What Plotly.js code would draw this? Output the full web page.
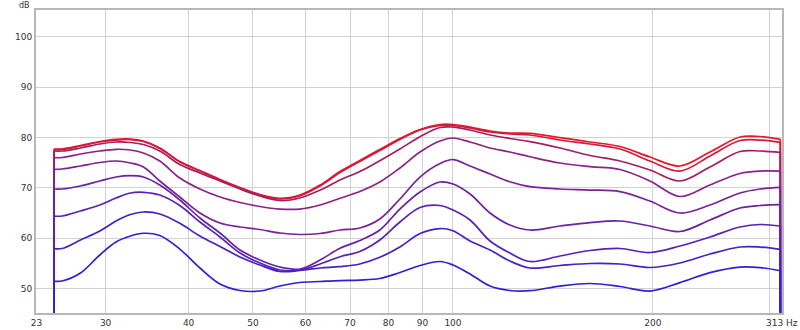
<!DOCTYPE html>
<html>
<head>
<meta charset="utf-8">
<script src="https://cdn.plot.ly/plotly-3.0.1.min.js"></script>
<style>html,body{margin:0;padding:0;background:#fff;}#chart{width:800px;height:330px;}</style>
</head>
<body>
<div id="chart"></div>
<script>
// Frequency axis (Hz) shared by all curves; first and last entries are the measurement edges
const freqs = [25.1, 25.1, 25.8, 27.5, 29.4, 31.1, 32.7, 34.2, 36.2, 38.8, 41.6, 44.6, 47.8, 51.2, 54.9, 58.8, 63.1, 67.6, 72.4, 77.6, 83.2, 89.2, 95.6, 100, 106.1, 113.7, 121.8, 130.6, 144.9, 160.8, 178.4, 197.9, 219.6, 243.7, 270.4, 289.8, 311, 311];

// SPL curves (dB), lowest level (blue) to highest level (red); first/last = edge roll-off
const level1 = [20, 51.47, 51.53, 53.11, 56.69, 59.27, 60.46, 61.0, 60.56, 57.87, 54.11, 50.93, 49.64, 49.54, 50.53, 51.23, 51.43, 51.62, 51.72, 52.02, 53.21, 54.60, 55.40, 54.70, 52.92, 50.53, 49.64, 49.60, 50.53, 51.03, 50.44, 49.54, 51.2, 53.2, 54.30, 54.20, 53.57, 20];
const level2 = [20, 57.94, 57.98, 59.66, 61.45, 63.43, 64.72, 65.22, 64.82, 62.97, 60.46, 58.37, 56.29, 54.70, 53.41, 53.61, 54.11, 54.37, 54.90, 56.23, 58.27, 60.95, 61.94, 61.51, 59.46, 57.68, 55.50, 54.11, 54.60, 55.00, 54.90, 54.21, 55.10, 56.88, 58.27, 58.27, 57.82, 20];
const level3 = [20, 64.42, 64.42, 65.42, 66.61, 68.00, 68.99, 69.13, 68.59, 66.51, 63.23, 60.26, 57.08, 55.10, 53.71, 53.71, 54.90, 56.35, 57.38, 59.66, 63.23, 66.11, 66.51, 65.62, 63.63, 59.46, 57.08, 55.40, 56.49, 57.58, 57.98, 57.18, 58.47, 60.26, 62.24, 62.74, 62.44, 20];
const level4 = [20, 69.78, 69.78, 70.38, 71.37, 72.16, 72.42, 72.16, 70.57, 67.60, 64.03, 61.05, 57.68, 55.70, 54.30, 53.91, 55.70, 58.02, 59.56, 61.65, 65.81, 69.19, 71.17, 70.77, 68.79, 65.02, 62.64, 61.65, 62.44, 63.13, 63.43, 62.44, 61.35, 63.63, 66.01, 66.51, 66.67, 20];
const level5 = [20, 73.69, 73.75, 74.35, 75.04, 75.34, 74.94, 74.15, 71.37, 68.19, 65.02, 63.03, 62.24, 61.75, 61.05, 60.76, 60.95, 61.65, 62.04, 63.83, 67.80, 72.16, 74.84, 75.63, 74.35, 72.76, 71.23, 70.24, 69.78, 69.58, 69.28, 67.40, 65.02, 66.61, 68.99, 69.78, 70.12, 20];
const level6 = [20, 75.99, 76.03, 76.73, 77.32, 77.66, 77.52, 76.92, 75.34, 71.96, 69.78, 68.19, 67.10, 66.31, 65.81, 65.81, 66.61, 67.94, 69.29, 71.17, 73.95, 77.12, 79.31, 79.90, 79.11, 77.92, 77.12, 76.19, 74.94, 74.21, 73.65, 71.37, 68.30, 70.58, 72.86, 73.35, 73.35, 20];
const level7 = [20, 77.32, 77.32, 77.92, 78.71, 79.11, 79.01, 78.61, 77.32, 74.64, 72.96, 71.37, 69.78, 68.39, 67.50, 68.00, 69.58, 71.57, 73.25, 75.40, 77.72, 80.16, 81.98, 82.08, 81.49, 80.50, 79.80, 79.17, 77.92, 76.43, 75.34, 73.55, 71.37, 74.15, 77.22, 77.32, 77.06, 20];
const level8 = [20, 77.62, 77.66, 78.31, 79.11, 79.50, 79.60, 79.21, 77.82, 75.14, 73.35, 71.57, 69.98, 68.59, 67.80, 68.39, 70.38, 73.05, 75.24, 77.42, 79.60, 81.49, 82.38, 82.38, 81.88, 81.09, 80.70, 80.50, 79.50, 78.71, 77.72, 75.34, 73.35, 76.33, 79.40, 79.50, 79.05, 20];
const level9 = [20, 77.72, 77.72, 78.41, 79.21, 79.64, 79.70, 79.31, 77.92, 75.24, 73.45, 71.67, 70.08, 68.69, 67.94, 68.59, 70.57, 73.25, 75.43, 77.62, 79.80, 81.59, 82.58, 82.58, 82.08, 81.29, 80.89, 80.83, 79.99, 79.11, 78.21, 76.13, 74.35, 77.12, 80.10, 80.20, 79.64, 20];

// Axis ticks
const xTickVals = [23.6, 30, 40, 50, 60, 70, 80, 90, 100, 200, 300, 312.6];
const xTickText = ['23', '30', '40', '50', '60', '70', '80', '90', '100', '200', '', '313 Hz'];
const yTickVals = [50, 60, 70, 80, 90, 100];
const yTickText = ['50', '60', '70', '80', '90', '100'];

const levels = [level1, level2, level3, level4, level5, level6, level7, level8, level9];
const colors = ['#2f20d8', '#4621c6', '#5a22b4', '#6a22a4', '#7a2296', '#8c2386', '#a61e62', '#d41a3c', '#ea162a'];

const traces = [];
const n = freqs.length;
for (let i = levels.length - 1; i >= 0; i--) {
  const lv = levels[i];
  // smooth body of the curve
  traces.push({
    x: freqs.slice(1, n - 1), y: lv.slice(1, n - 1), type: 'scatter', mode: 'lines',
    line: {color: colors[i], width: 1.7, shape: 'spline', smoothing: 1.0},
    hoverinfo: 'skip', showlegend: false
  });
  // straight roll-off edges at both ends
  traces.push({
    x: [freqs[0], freqs[1], null, freqs[n - 2], freqs[n - 1]],
    y: [lv[0], lv[1], null, lv[n - 2], lv[n - 1]],
    type: 'scatter', mode: 'lines',
    line: {color: colors[i], width: 1.7},
    hoverinfo: 'skip', showlegend: false
  });
}

const fontFam = 'DejaVu Sans, sans-serif';
const layout = {
  width: 800, height: 330,
  margin: {l: 36, r: 18, t: 10, b: 17, pad: 0},
  paper_bgcolor: '#ffffff', plot_bgcolor: '#ffffff',
  font: {family: fontFam, size: 9, color: '#333333'},
  xaxis: {
    type: 'log', range: [Math.log10(23.57), Math.log10(312.8)],
    tickmode: 'array', tickvals: xTickVals, ticktext: xTickText,
    showgrid: true, gridcolor: '#d2d2d2', gridwidth: 1,
    showline: true, linecolor: '#b8b8b8', linewidth: 2, mirror: true,
    ticks: '', zeroline: false, tickfont: {family: fontFam, size: 9, color: '#333'}
  },
  yaxis: {
    range: [45.18, 105.3],
    tickmode: 'array', tickvals: yTickVals, ticktext: yTickText,
    showgrid: true, gridcolor: '#d2d2d2', gridwidth: 1,
    showline: true, linecolor: '#b8b8b8', linewidth: 2, mirror: true,
    ticks: '', zeroline: false, tickfont: {family: fontFam, size: 9, color: '#333'}
  },
  annotations: [{
    text: 'dB', xref: 'paper', yref: 'paper', x: 0, y: 1,
    xanchor: 'right', yanchor: 'bottom', xshift: -4, yshift: -2,
    showarrow: false, font: {family: fontFam, size: 8, color: '#333'}
  }]
};

Plotly.newPlot('chart', traces, layout, {displayModeBar: false, staticPlot: true});
</script>
</body>
</html>
